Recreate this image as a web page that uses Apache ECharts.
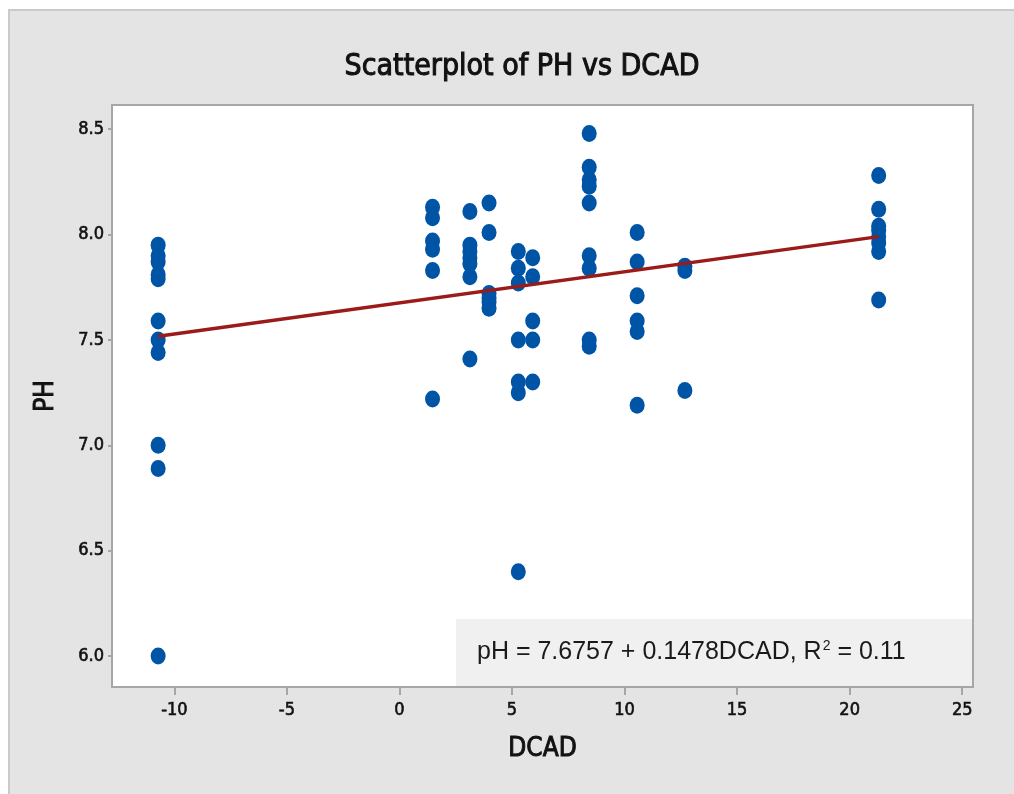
<!DOCTYPE html>
<html>
<head>
<meta charset="utf-8">
<title>Scatterplot of PH vs DCAD</title>
<script src="https://cdn.jsdelivr.net/npm/echarts@6/dist/echarts.min.js"></script>
<style>
  html, body { margin: 0; padding: 0; background: #fff; }
  #panel {
    position: absolute; left: 8px; top: 9px; right: 0; bottom: 0;
    background: #e4e4e4; border-left: 2px solid #cacaca; border-top: 2px solid #cacaca;
  }
  #chart { position: absolute; left: 0; top: 0; width: 1014px; height: 794px; }
</style>
</head>
<body>
<div id="panel"></div>
<div id="chart"></div>
<script>
var dcad = [
  -10.72, -10.72, -10.72, -10.72, -10.72, -10.72, -10.72, -10.72, -10.72, -10.72, -10.72,
  1.47, 1.47, 1.47, 1.47, 1.47, 1.47,
  3.13, 3.13, 3.13, 3.13, 3.13, 3.13, 3.13,
  3.98, 3.98, 3.98, 3.98, 3.98, 3.98,
  5.28, 5.28, 5.28, 5.28, 5.28, 5.28, 5.28,
  5.92, 5.92, 5.92, 5.92, 5.92,
  8.43, 8.43, 8.43, 8.43, 8.43, 8.43, 8.43, 8.43, 8.43,
  10.56, 10.56, 10.56, 10.56, 10.56, 10.56,
  12.68, 12.68, 12.68,
  21.29, 21.29, 21.29, 21.29, 21.29, 21.29, 21.29, 21.29
]
var ph = [
  7.95, 7.90, 7.87, 7.81, 7.79, 7.59, 7.50, 7.44, 7.00, 6.89, 6.00,
  8.13, 8.08, 7.97, 7.93, 7.83, 7.22,
  8.11, 7.95, 7.92, 7.89, 7.86, 7.80, 7.41,
  8.15, 8.01, 7.72, 7.70, 7.68, 7.65,
  7.92, 7.84, 7.77, 7.50, 7.30, 7.25, 6.40,
  7.89, 7.80, 7.59, 7.50, 7.30,
  8.48, 8.32, 8.26, 8.23, 8.15, 7.90, 7.84, 7.50, 7.47,
  8.01, 7.87, 7.71, 7.59, 7.54, 7.19,
  7.85, 7.83, 7.26,
  8.28, 8.12, 8.04, 8.02, 7.99, 7.96, 7.92, 7.69
]

// fitted line as drawn on the chart
var fitIntercept = 7.6757
var fitSlope = 0.01478
var fitLabel = 'pH = 7.6757 + 0.1478DCAD, R{sup|2} = 0.11'

var xTicks = [-10, -5, 0, 5, 10, 15, 20, 25]
var yTicks = [6.0, 6.5, 7.0, 7.5, 8.0, 8.5]

var FONT = "'Liberation Sans Narrow', 'DejaVu Sans Condensed', Lato, sans-serif"
var INK = '#111'

// regular condensed face, thickened a little with a same-colour outline
function semibold (size, border) {
  return {
    fontFamily: FONT,
    fontWeight: 'normal',
    fontSize: size,
    color: INK,
    textBorderColor: INK,
    textBorderWidth: border
  }
}

var points = dcad.map(function (d, i) { return [d, ph[i]] })
var xLo = Math.min.apply(null, dcad)
var xHi = Math.max.apply(null, dcad)
var fitLine = [[xLo, fitIntercept + fitSlope * xLo], [xHi, fitIntercept + fitSlope * xHi]]

var myChart = echarts.init(document.getElementById('chart'))

var gridLeft = 112, gridTop = 105, gridRight = 41, gridBottom = 107

const option = {
  animation: false,
  backgroundColor: 'transparent',
  title: {
    text: 'Scatterplot of PH vs DCAD',
    left: 517,
    top: 47,
    textAlign: 'center',
    textStyle: semibold(30, 1)
  },
  grid: {
    left: gridLeft,
    top: gridTop,
    right: gridRight,
    bottom: gridBottom,
    show: true,
    backgroundColor: '#fff',
    borderColor: '#a6a6a6',
    borderWidth: 2
  },
  xAxis: {
    type: 'value',
    min: -12.77,
    max: 25.48,
    name: 'DCAD',
    nameLocation: 'middle',
    nameGap: 49,
    nameTextStyle: semibold(26, 0.9),
    splitLine: { show: false },
    axisLine: { show: true, onZero: false, lineStyle: { color: '#a6a6a6', width: 2 } },
    axisTick: { show: true, length: 8, customValues: xTicks, lineStyle: { color: '#a6a6a6', width: 2 } },
    axisLabel: Object.assign({ customValues: xTicks, margin: 14 }, semibold(18, 0.6))
  },
  yAxis: {
    type: 'value',
    min: 5.853,
    max: 8.615,
    name: 'PH',
    nameLocation: 'middle',
    nameRotate: 90,
    nameGap: 53,
    nameTextStyle: semibold(26, 0.9),
    splitLine: { show: false },
    axisLine: { show: true, onZero: false, lineStyle: { color: '#a6a6a6', width: 2 } },
    axisTick: { show: true, length: 4, customValues: yTicks, lineStyle: { color: '#a6a6a6', width: 2 } },
    axisLabel: Object.assign({
      customValues: yTicks,
      margin: 8,
      formatter: function (v) { return v.toFixed(1) }
    }, semibold(18, 0.6))
  },
  graphic: [{
    type: 'group',
    z: 1,
    children: [{
      type: 'rect',
      shape: { x: 456, y: 619, width: 1014 - gridRight - 456 - 1, height: 794 - gridBottom - 619 - 1 },
      style: { fill: '#f0f0f0' }
    }, {
      type: 'text',
      x: 477,
      y: 652,
      style: {
        text: fitLabel,
        fontFamily: "'Liberation Sans', Arial, sans-serif",
        fontSize: 25,
        fill: '#1a1a1a',
        verticalAlign: 'middle',
        rich: {
          sup: { fontFamily: "'Liberation Sans', Arial, sans-serif", fontSize: 14, verticalAlign: 'top', padding: [0, 0, 12, 1], fill: '#1a1a1a' }
        }
      }
    }]
  }],
  series: [{
    name: 'PH',
    type: 'scatter',
    symbol: 'circle',
    symbolSize: [15, 17],
    itemStyle: { color: '#0054a6', opacity: 1 },
    data: points,
    z: 3
  }, {
    name: 'Fit',
    type: 'line',
    showSymbol: false,
    lineStyle: { color: '#9b1a1a', width: 3.5 },
    data: fitLine,
    z: 4
  }]
}

myChart.setOption(option)
</script>
</body>
</html>
